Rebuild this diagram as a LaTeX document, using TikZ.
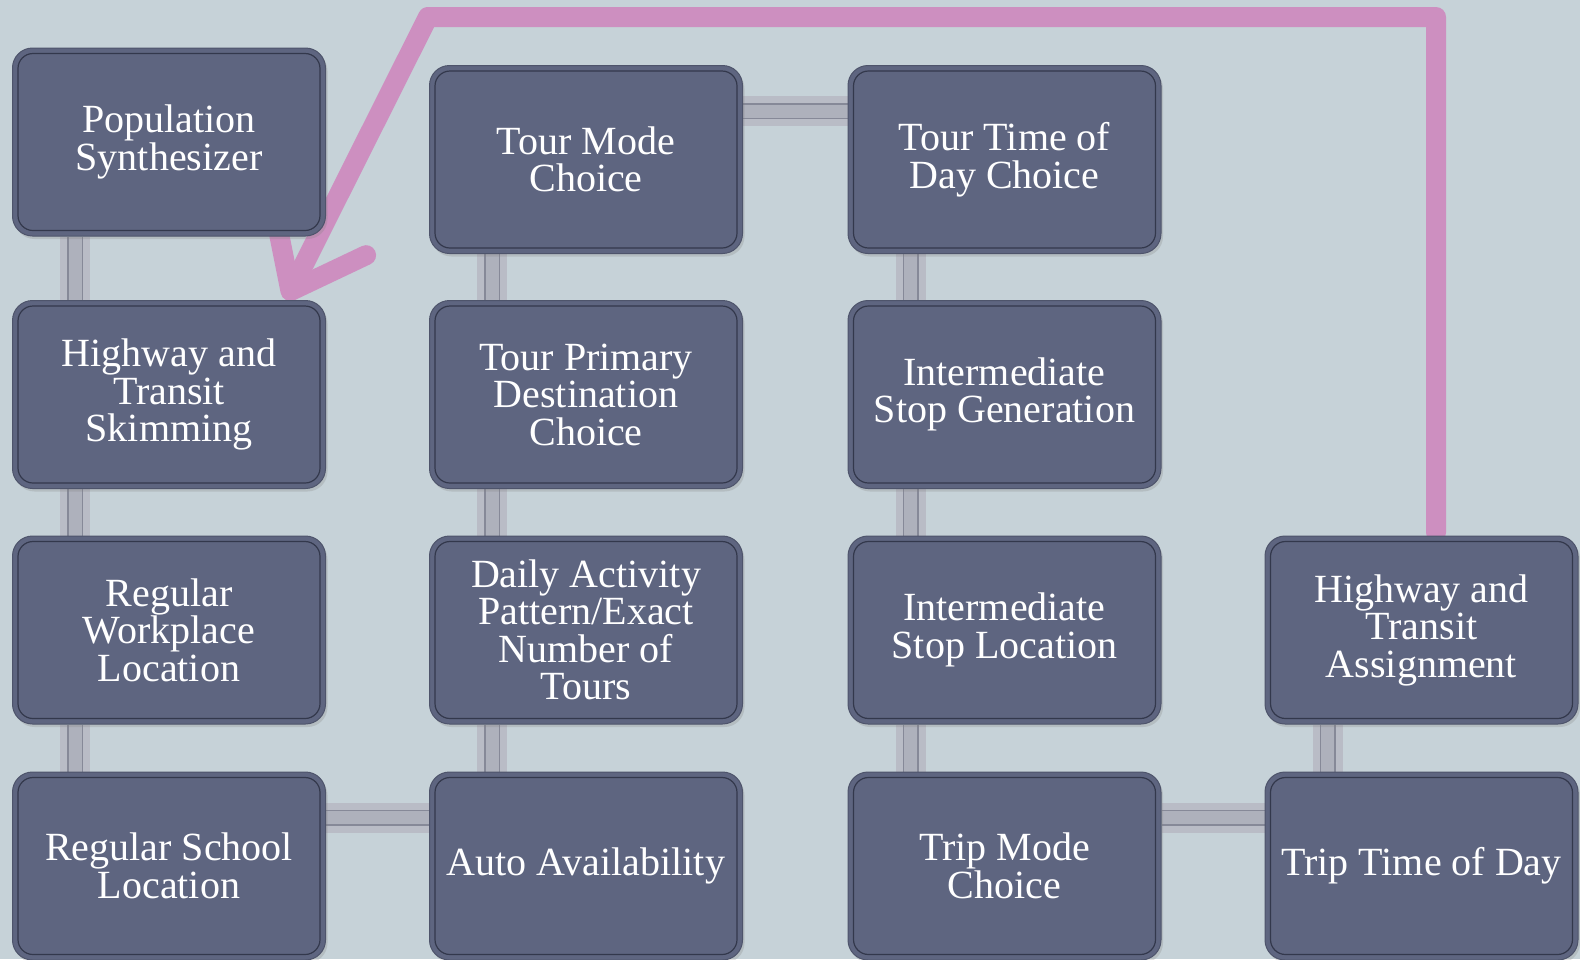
\documentclass[tikz,border=0pt]{standalone}
\usepackage{fontspec}
\newfontfamily\stagefont{Liberation Serif}
\usetikzlibrary{arrows.meta, shadows, backgrounds}

\definecolor{bg}{HTML}{C6D2D8}
\definecolor{boxfill}{HTML}{5E6580}
\definecolor{boxedge}{HTML}{4E546B}
\definecolor{boxrim}{HTML}{33384C}
\definecolor{railpale}{HTML}{B9BCC6}
\definecolor{railmid}{HTML}{AEB1BC}
\definecolor{railline}{HTML}{868998}
\definecolor{backpink}{HTML}{CD8FC0}

\begin{document}
\begin{tikzpicture}[x=1pt, y=-1pt,
  stage/.style={rectangle, rounded corners=20pt, minimum width=313pt,
    minimum height=188pt, inner sep=4pt, fill=boxfill, draw=boxedge,
    line width=1pt, text=white, align=center,
    font=\stagefont\fontsize{40}{37.5}\selectfont,
    drop shadow={opacity=0.25, shadow xshift=2pt, shadow yshift=-3pt}},
  rim/.style={draw=boxrim, line width=1.2pt, rounded corners=15pt},
  rail/.style={line width=30pt, draw=railpale,
    postaction={draw=railline, line width=16pt},
    postaction={draw=railmid, line width=13pt}},
  feedback/.style={line width=20pt, draw=backpink, line cap=round,
    line join=round}]
  \useasboundingbox (0,0) rectangle (1580,959);

  % model steps, column by column
  \node[stage] (pop)    at (169,142)    {Population\\Synthesizer};
  \node[stage] (skim)   at (169,394.5)  {Highway and\\Transit\\Skimming};
  \node[stage] (work)   at (169,630)    {Regular\\Workplace\\Location};
  \node[stage] (school) at (169,866)    {Regular School\\Location};

  \node[stage] (tmode)  at (586,159.5)  {Tour Mode\\Choice};
  \node[stage] (tpd)    at (586,394.5)  {Tour Primary\\Destination\\Choice};
  \node[stage] (dap)    at (586,630)    {Daily Activity\\Pattern/Exact\\Number of\\Tours};
  \node[stage] (auto)   at (586,866)    {Auto Availability};

  \node[stage] (ttod)   at (1004.5,159.5) {Tour Time of\\Day Choice};
  \node[stage] (isg)    at (1004.5,394.5) {Intermediate\\Stop Generation};
  \node[stage] (isl)    at (1004.5,630)   {Intermediate\\Stop Location};
  \node[stage] (trmode) at (1004.5,866)   {Trip Mode\\Choice};

  \node[stage] (asg)    at (1421.5,630) {Highway and\\Transit\\Assignment};
  \node[stage] (trtod)  at (1421.5,866) {Trip Time of Day};

  % inner rim of every box
  \foreach \n in {pop,skim,work,school,tmode,tpd,dap,auto,ttod,isg,isl,trmode,asg,trtod}
    \draw[rim] ([shift={(6,6)}]\n.north west) rectangle ([shift={(-6,-6)}]\n.south east);

  \begin{scope}[on background layer]
    \fill[bg] (0,0) rectangle (1580,959);
    % vertical rails
    \draw[rail] ([xshift=63pt]pop.south west)    -- ([xshift=63pt]skim.north west);
    \draw[rail] ([xshift=63pt]skim.south west)   -- ([xshift=63pt]work.north west);
    \draw[rail] ([xshift=63pt]work.south west)   -- ([xshift=63pt]school.north west);
    \draw[rail] ([xshift=63pt]tmode.south west)  -- ([xshift=63pt]tpd.north west);
    \draw[rail] ([xshift=63pt]tpd.south west)    -- ([xshift=63pt]dap.north west);
    \draw[rail] ([xshift=63pt]dap.south west)    -- ([xshift=63pt]auto.north west);
    \draw[rail] ([xshift=63pt]ttod.south west)   -- ([xshift=63pt]isg.north west);
    \draw[rail] ([xshift=63pt]isg.south west)    -- ([xshift=63pt]isl.north west);
    \draw[rail] ([xshift=63pt]isl.south west)    -- ([xshift=63pt]trmode.north west);
    \draw[rail] ([xshift=63pt]asg.south west)    -- ([xshift=63pt]trtod.north west);
    % horizontal rails
    \draw[rail] ([yshift=-46pt]tmode.north east)  -- ([yshift=-46pt]ttod.north west);
    \draw[rail] ([yshift=-46pt]school.north east) -- ([yshift=-46pt]auto.north west);
    \draw[rail] ([yshift=-46pt]trmode.north east) -- ([yshift=-46pt]trtod.north west);
    % feedback loop back to skimming
    \coordinate (bend) at (428,17);
    \draw[feedback, -{Straight Barb[round, length=66pt, width=103pt]}]
      ([xshift=14.5pt, yshift=3pt]asg.north) |- (bend)
      -- ([xshift=-40pt]skim.north east);
  \end{scope}
\end{tikzpicture}
\end{document}
